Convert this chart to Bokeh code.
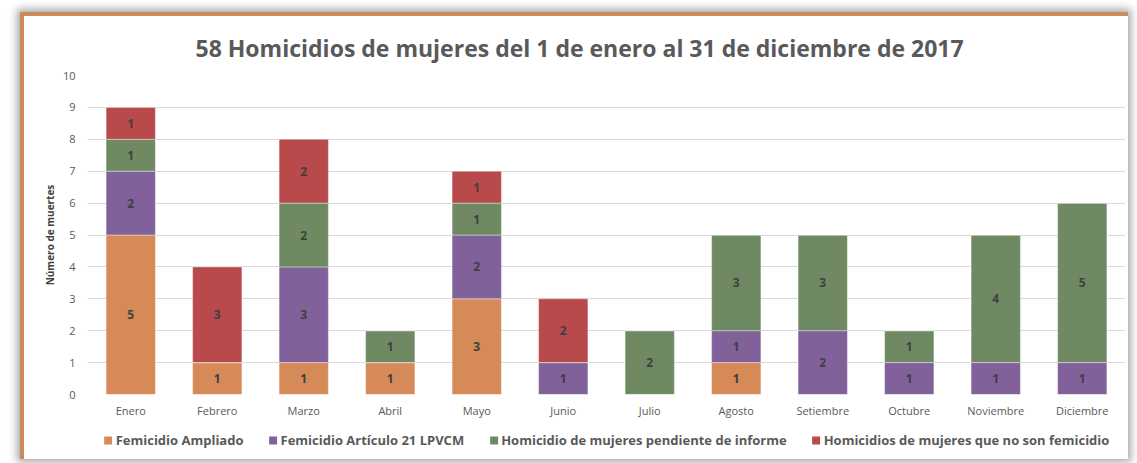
from bokeh.plotting import figure
from bokeh.layouts import column
from bokeh.models import (ColumnDataSource, Legend, LegendItem, FactorRange, LabelSet,
                          SingleIntervalTicker, Range1d)
from bokeh.core.properties import value
from bokeh.embed import file_html
from bokeh.resources import INLINE

months = ["Enero", "Febrero", "Marzo", "Abril", "Mayo", "Junio", "Julio",
          "Agosto", "Setiembre", "Octubre", "Noviembre", "Diciembre"]
ampliado = [5, 1, 1, 1, 3, 0, 0, 1, 0, 0, 0, 0]
articulo21 = [2, 0, 3, 0, 2, 1, 0, 1, 2, 1, 1, 1]
pendiente = [1, 0, 2, 1, 1, 0, 2, 3, 3, 1, 4, 5]
no_femicidio = [1, 3, 2, 0, 1, 2, 0, 0, 0, 0, 0, 0]

series_keys = ["ampliado", "articulo21", "pendiente", "no_femicidio"]
series_names = ["Femicidio Ampliado", "Femicidio Artículo 21 LPVCM",
                "Homicidio de mujeres pendiente de informe",
                "Homicidios de mujeres que no son femicidio"]
colors = ["#D68A58", "#80619A", "#6F8A62", "#B84A4B"]
title_text = "58 Homicidios de mujeres del 1 de enero al 31 de diciembre de 2017"
y_label = "Número de muertes"

FONT = "Open Sans"

data = dict(month=months, ampliado=ampliado, articulo21=articulo21,
            pendiente=pendiente, no_femicidio=no_femicidio)
source = ColumnDataSource(data)

p = figure(x_range=FactorRange(*months, range_padding=0), y_range=(0, 10),
           width=1104, height=404, output_backend="svg", toolbar_location=None,
           min_border_left=63, min_border_right=3, min_border_top=59, min_border_bottom=26)

renderers = p.vbar_stack(series_keys, x="month", width=0.57, color=colors,
                         line_color="white", line_alpha=0.4, source=source)

# value labels at the middle of each segment
lx, ly, lt = [], [], []
vals = [ampliado, articulo21, pendiente, no_femicidio]
for i, m in enumerate(months):
    base = 0
    for s in vals:
        v = s[i]
        if v > 0:
            lx.append(m)
            ly.append(base + v / 2)
            lt.append(str(v))
        base += v
lsrc = ColumnDataSource(dict(x=lx, y=ly, t=lt))
p.add_layout(LabelSet(x="x", y="y", text="t", source=lsrc, text_align="center",
                      text_baseline="middle", text_font=value(FONT), text_font_size="12px",
                      text_font_style="bold", text_color="#404040"))

p.title.text = title_text
p.title.align = "left"
p.title.offset = 108
p.title.text_font = FONT
p.title.text_font_size = "23px"
p.title.text_font_style = "bold"
p.title.text_color = "#595959"
p.title.standoff = 24

p.yaxis.ticker = SingleIntervalTicker(interval=1)
p.yaxis.axis_label = y_label
p.yaxis.axis_label_text_font = FONT
p.yaxis.axis_label_text_font_size = "10px"
p.yaxis.axis_label_text_font_style = "bold"
p.yaxis.axis_label_text_color = "#404040"
p.yaxis.axis_label_standoff = 3
for ax in (p.xaxis, p.yaxis):
    ax.axis_line_color = None
    ax.major_tick_line_color = None
    ax.minor_tick_line_color = None
    ax.major_label_text_font = FONT
    ax.major_label_text_font_size = "11px"
    ax.major_label_text_color = "#595959"
p.xaxis.major_label_standoff = 2
p.yaxis.major_label_standoff = 6

p.xgrid.grid_line_color = None
p.ygrid.grid_line_color = "#D9D9D9"
p.outline_line_color = None

# legend strip: a separate figure (same stacked series, kept outside its visible range)
p2 = figure(width=1104, height=39, x_range=FactorRange(*months), y_range=Range1d(100, 101),
            output_backend="svg", toolbar_location=None,
            x_axis_location=None, y_axis_location=None,
            min_border_left=63, min_border_right=3, min_border_top=0, min_border_bottom=0)
p2.grid.visible = False
p2.outline_line_color = None
leg_renderers = p2.vbar_stack(series_keys, x="month", width=0.57, color=colors,
                              line_color=None, source=source)
legend = Legend(items=[LegendItem(label=n, renderers=[r]) for n, r in zip(series_names, leg_renderers)],
                orientation="horizontal", location="center",
                label_text_font=FONT, label_text_font_size="13px", label_text_font_style="bold",
                label_text_color="#595959", glyph_width=10, glyph_height=10,
                label_standoff=3, spacing=24, padding=0, margin=0, border_line_color=None,
                background_fill_alpha=0)
p2.add_layout(legend, "center")

layout = column(p, p2, margin=(12, 0, 0, 20),
                styles={"border-top": "4px solid #C98B5E", "border-left": "4px solid #C98B5E",
                        "box-shadow": "0px 0px 8px 3px rgba(0,0,0,0.35)",
                        "background-color": "white"})

open("out.html", "w").write(file_html(layout, INLINE))
